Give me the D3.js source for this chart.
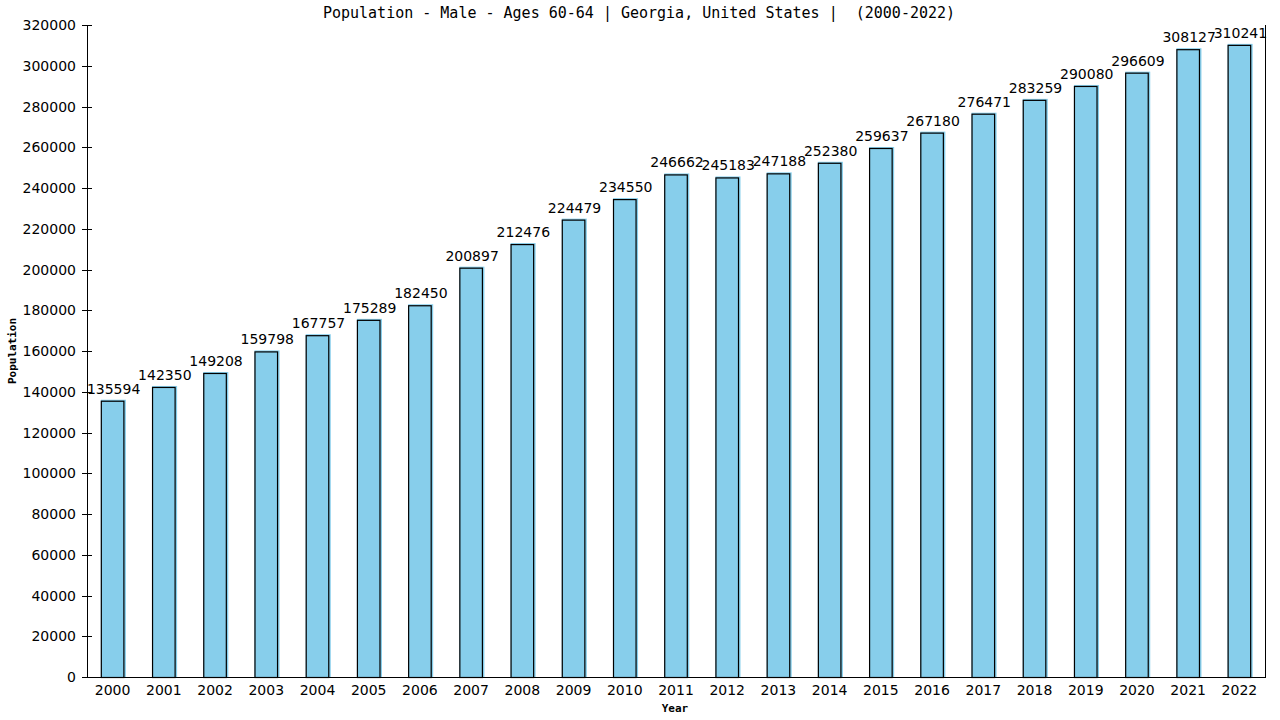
<!DOCTYPE html>
<html>
<head>
<meta charset="utf-8">
<script src="https://cdn.jsdelivr.net/npm/d3@7"></script>
<style>
  body { margin: 0; background: #fff; }
  text { font-family: "DejaVu Sans Mono", monospace; fill: #000; }
  text.num { font-family: "DejaVu Sans", sans-serif; font-size: 14px; }
</style>
</head>
<body>
<div id="target"></div>
<script>
const years = ["2000", "2001", "2002", "2003", "2004", "2005", "2006", "2007", "2008", "2009", "2010",
  "2011", "2012", "2013", "2014", "2015", "2016", "2017", "2018", "2019", "2020", "2021", "2022"];
const population = [135594, 142350, 149208, 159798, 167757, 175289, 182450, 200897, 212476, 224479, 234550,
  246662, 245183, 247188, 252380, 259637, 267180, 276471, 283259, 290080, 296609, 308127, 310241];
const yTicks = d3.range(0, 320001, 20000);
const title = "Population - Male - Ages 60-64 | Georgia, United States |  (2000-2022)";

function drawBars() {
  const width = 1280,
    height = 720,
    left = 87,
    right = 1265,
    top = 25,
    bottom = 677;

  const svg = d3.select("#target")
    .append("svg")
    .attr("width", width)
    .attr("height", height);

  const x = d3.scaleBand()
    .domain(years)
    .range([left, right])
    .paddingInner(0.54)
    .paddingOuter(0.27);

  const y = d3.scaleLinear()
    .domain([0, 320000])
    .range([bottom, top]);

  svg.append("text")
    .attr("x", 639)
    .attr("y", 18)
    .attr("text-anchor", "middle")
    .style("font-size", "15px")
    .style("white-space", "pre")
    .text(title);

  // bars: fill first, then outline
  const bar = svg.append("g")
    .selectAll("g")
    .data(population)
    .enter()
    .append("g");

  bar.append("rect")
    .attr("x", (d, i) => x(years[i]))
    .attr("y", (d) => y(d) - 1)
    .attr("width", x.bandwidth() + 1.5)
    .attr("height", (d) => bottom - y(d) + 1)
    .style("fill", "#87ceeb");

  bar.append("rect")
    .attr("x", (d, i) => x(years[i]) + 0.5)
    .attr("y", (d) => y(d) + 0.5)
    .attr("width", x.bandwidth() - 1)
    .attr("height", (d) => bottom - y(d))
    .style("fill", "none")
    .style("stroke", "#000")
    .style("stroke-width", 1.2);

  bar.append("text")
    .attr("class", "num")
    .attr("x", (d, i) => x(years[i]) + x.bandwidth() / 2 + 1)
    .attr("y", (d) => y(d) - 7)
    .attr("text-anchor", "middle")
    .text((d) => d);

  // y axis
  const yAxis = svg.append("g");
  yAxis.append("line")
    .attr("x1", left + 0.5).attr("x2", left + 0.5)
    .attr("y1", top).attr("y2", bottom)
    .style("stroke", "#000");
  const yt = yAxis.selectAll("g")
    .data(yTicks)
    .enter()
    .append("g")
    .attr("transform", (d) => `translate(0,${Math.round(y(d)) + 0.5})`);
  yt.append("line")
    .attr("x1", left - 5).attr("x2", left + 5)
    .style("stroke", "#000");
  yt.append("text")
    .attr("class", "num")
    .attr("x", 76)
    .attr("dy", "0.35em")
    .attr("text-anchor", "end")
    .text((d) => d);

  // x axis and right border
  svg.append("line")
    .attr("x1", left).attr("x2", right + 1)
    .attr("y1", bottom + 0.5).attr("y2", bottom + 0.5)
    .style("stroke", "#000");
  svg.append("line")
    .attr("x1", right + 0.5).attr("x2", right + 0.5)
    .attr("y1", top).attr("y2", bottom)
    .style("stroke", "#000");

  svg.append("g")
    .selectAll("text")
    .data(years)
    .enter()
    .append("text")
    .attr("class", "num")
    .attr("x", (d) => x(d) + x.bandwidth() / 2)
    .attr("y", 695)
    .attr("text-anchor", "middle")
    .text((d) => d);

  svg.append("text")
    .attr("x", 675)
    .attr("y", 712)
    .attr("text-anchor", "middle")
    .style("font-size", "11px")
    .style("font-weight", "bold")
    .text("Year");

  svg.append("text")
    .attr("transform", "translate(16,351) rotate(-90)")
    .attr("text-anchor", "middle")
    .style("font-size", "11px")
    .style("font-weight", "bold")
    .text("Population");
}

drawBars();
</script>
</body>
</html>
